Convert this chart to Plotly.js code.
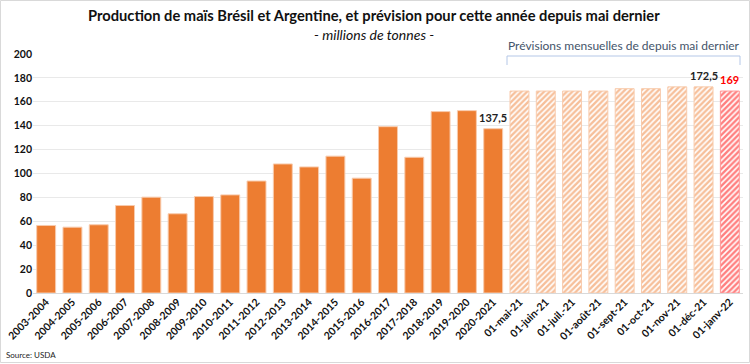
<!DOCTYPE html>
<html><head><meta charset="utf-8">
<script src="https://cdn.plot.ly/plotly-3.0.1.min.js"></script>
<style>html,body{margin:0;padding:0;background:#fff}#c{width:750px;height:364px}</style>
</head><body><div id="c"></div>
<script>
const seasons = ["2003-2004","2004-2005","2005-2006","2006-2007","2007-2008","2008-2009","2009-2010","2010-2011","2011-2012","2012-2013","2013-2014","2014-2015","2015-2016","2016-2017","2017-2018","2018-2019","2019-2020","2020-2021"];
const production = [56.5,55.1,57.1,73.2,80.2,66.3,80.7,82.1,93.7,108,105.5,114.5,96.1,139.2,113.6,151.8,152.6,137.5];
const forecastMonths = ["01-mai-21","01-juin-21","01-juil.-21","01-août-21","01-sept-21","01-oct-21","01-nov-21","01-déc-21"];
const forecasts = [169,169,169,169,171,171,172.5,172.5];
const latestMonth = ["01-janv-22"];
const latestForecast = [169];
const yTicks = [0,20,40,60,80,100,120,140,160,180,200];

const FONT = "Lato, 'Open Sans', sans-serif";
const orange = "#ED7D31";

const traces = [
  {type:"bar", x:seasons, y:production, marker:{color:orange, line:{color:"#F8CBAD", width:1}}},
  {type:"bar", x:forecastMonths, y:forecasts, marker:{color:"#ffffff", line:{color:"#F8CBAD", width:1},
     pattern:{shape:"/", fgcolor:"#EE7F35", bgcolor:"#ffffff", size:4, solidity:0.6, fillmode:"overlay"}}},
  {type:"bar", x:latestMonth, y:latestForecast, marker:{color:"#ffffff", line:{color:"#FF9999", width:1},
     pattern:{shape:"/", fgcolor:"#FF0000", bgcolor:"#ffffff", size:4, solidity:0.6, fillmode:"overlay"}}}
];

const allCats = seasons.concat(forecastMonths, latestMonth);

const W = 750 - 33 - 7, H = 364 - 54 - 71;
const px = x => (x - 33) / W;
const py = y => (364 - 71 - y) / H;

const annotations = [
  {x:seasons[seasons.length-1], y:production[production.length-1], text:"<b>137,5</b>", showarrow:false, xanchor:"center", yanchor:"bottom", yshift:3, font:{size:11, color:"#222", family:FONT}},
  {x:forecastMonths[forecastMonths.length-1], y:forecasts[forecasts.length-1], text:"<b>172,5</b>", showarrow:false, xanchor:"center", yanchor:"bottom", yshift:3, font:{size:11, color:"#222", family:FONT}},
  {x:latestMonth[0], y:latestForecast[0], text:"<b>169</b>", showarrow:false, xanchor:"center", yanchor:"bottom", yshift:3, font:{size:11, color:"#FF0000", family:FONT}},
  {xref:"paper", yref:"paper", x:px(374), y:py(15), xanchor:"center", yanchor:"middle", text:"<b>Production de maïs Brésil et Argentine, et prévision pour cette année depuis mai dernier</b>", showarrow:false, font:{size:14.7, color:"#111", family:FONT}},
  {xref:"paper", yref:"paper", x:px(374), y:py(34), xanchor:"center", yanchor:"middle", text:"<i>- millions de tonnes -</i>", showarrow:false, font:{size:14, color:"#111", family:FONT}},
  {xref:"paper", yref:"paper", x:px(624), y:py(46), xanchor:"center", yanchor:"middle", text:"Prévisions mensuelles de depuis mai dernier", showarrow:false, font:{size:12, color:"#44546A", family:FONT}},
  {xref:"paper", yref:"paper", x:px(4), y:py(355), xanchor:"left", yanchor:"middle", text:"Source: USDA", showarrow:false, font:{size:8, color:"#222", family:FONT}}
];

const layout = {
  width:750, height:364,
  margin:{l:33, r:7, t:54, b:71},
  paper_bgcolor:"#fff", plot_bgcolor:"#fff",
  showlegend:false, barmode:"group", bargap:0.28,
  separators:", ",
  font:{family:FONT, color:"#111"},
  xaxis:{type:"category", categoryarray:allCats, categoryorder:"array", tickangle:-45, tickfont:{size:10.5, color:"#111", family:FONT, weight:"bold"}, showgrid:false, showline:false, ticks:"", automargin:false},
  yaxis:{range:[0,200], tickvals:yTicks, tickfont:{size:10.5, color:"#111", family:FONT, weight:"bold"}, gridcolor:"#E9E9E9", zeroline:true, zerolinecolor:"#D9D9D9", showline:false, ticks:"", automargin:false, fixedrange:true},
  annotations:annotations,
  shapes:[
    {type:"path", xref:"paper", yref:"paper", path:`M ${px(507)} ${py(65)} L ${px(507)} ${py(56)} L ${px(740)} ${py(56)} L ${px(740)} ${py(65)}`, line:{color:"#B4C7E7", width:1}},
    {type:"rect", xref:"paper", yref:"paper", x0:px(0.5), y0:py(362.5), x1:px(749.5), y1:py(0.5), line:{color:"#D9D9D9", width:1}, layer:"below"}
  ]
};

Plotly.newPlot("c", traces, layout, {displayModeBar:false, staticPlot:true});
</script></body></html>
